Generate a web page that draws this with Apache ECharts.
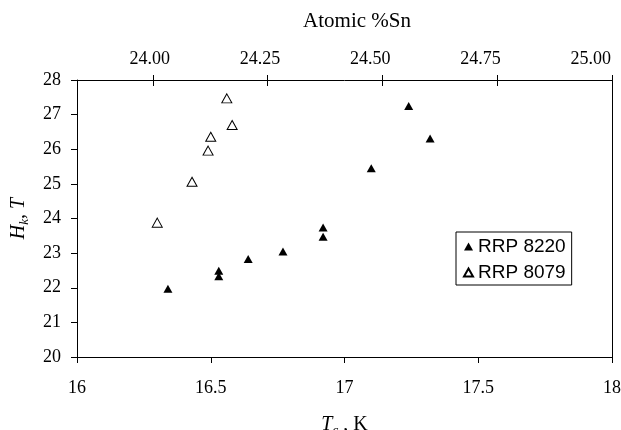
<!DOCTYPE html>
<html>
<head>
<meta charset="utf-8">
<script src="https://cdn.jsdelivr.net/npm/echarts@6/dist/echarts.min.js"></script>
<style>
html,body{margin:0;padding:0;background:#fff;}
#c{width:621px;height:430px;}
</style>
</head>
<body>
<div id="c"></div>
<script>
// Data
const seriesNames = ['RRP 8220', 'RRP 8079'];
const tc8220 = [16.34, 16.53, 16.53, 16.64, 16.77, 16.92, 16.92, 17.10, 17.24, 17.32];
const hk8220 = [21.97, 22.49, 22.33, 22.83, 23.05, 23.74, 23.47, 25.45, 27.25, 26.31];
const tc8079 = [16.30, 16.43, 16.49, 16.50, 16.58, 16.56];
const hk8079 = [23.88, 25.06, 25.96, 26.36, 26.70, 27.47];
const topTicks = [24.00, 24.25, 24.50, 24.75, 25.00];

const serif = 'Liberation Serif';
const chart = echarts.init(document.getElementById('c'), null, {renderer: 'canvas'});

const topMin = 23.835;

const option = {
  animation: false,
  backgroundColor: '#fff',
  grid: {left: 77, right: 9, top: 80, bottom: 73, containLabel: false, outerBoundsMode: 'none'},
  legend: {
    orient: 'vertical',
    left: 456, top: 232,
    borderColor: '#000', borderWidth: 1,
    padding: [5, 6, 3, 7],
    itemGap: 7,
    itemWidth: 9, itemHeight: 8,
    icon: 'triangle',
    textStyle: {fontFamily: 'Liberation Sans', fontSize: 19, color: '#000'},
    data: seriesNames
  },
  xAxis: [
    {
      type: 'value', position: 'bottom', min: 16, max: 18, interval: 0.5,
      axisLine: {show: true, lineStyle: {color: '#000', width: 1}},
      axisTick: {show: true, inside: false, length: 6, lineStyle: {color: '#000'}},
      axisLabel: {color: '#000', fontFamily: serif, fontSize: 18, margin: 22},
      splitLine: {show: false},
      name: '{i|T}{s|c}{n| , K}',
      nameLocation: 'middle', nameGap: 56,
      nameTextStyle: {
        rich: {
          i: {fontFamily: serif, fontStyle: 'italic', fontSize: 20, color: '#000', lineHeight: 24, verticalAlign: 'middle'},
          s: {fontFamily: serif, fontStyle: 'italic', fontSize: 13, color: '#000', lineHeight: 13, verticalAlign: 'bottom'},
          n: {fontFamily: serif, fontSize: 20, color: '#000', lineHeight: 24, verticalAlign: 'middle'}
        }
      }
    },
    {
      // top axis: line, labels and title
      type: 'value', position: 'top', min: topMin, max: 25.048,
      axisLine: {show: true, lineStyle: {color: '#000', width: 1}},
      axisTick: {show: false},
      axisLabel: {color: '#000', fontFamily: serif, fontSize: 18, margin: 12, customValues: topTicks,
        formatter: v => v.toFixed(2)},
      splitLine: {show: false},
      name: 'Atomic %Sn',
      nameLocation: 'middle', nameGap: 48,
      nameTextStyle: {fontFamily: serif, fontSize: 21, color: '#000', padding: [0, 0, 0, 25]}
    },
    {
      // top axis ticks, outer half
      type: 'value', position: 'top', min: topMin, max: 25.0,
      axisLine: {show: false},
      axisTick: {show: true, inside: false, length: 5, customValues: topTicks, lineStyle: {color: '#000'}},
      axisLabel: {show: false},
      splitLine: {show: false}
    },
    {
      // top axis ticks, inner half
      type: 'value', position: 'top', min: topMin, max: 25.0,
      axisLine: {show: false},
      axisTick: {show: true, inside: true, length: 6, customValues: topTicks, lineStyle: {color: '#000'}},
      axisLabel: {show: false},
      splitLine: {show: false}
    }
  ],
  yAxis: [
    {
      type: 'value', position: 'left', min: 20, max: 28, interval: 1,
      axisLine: {show: true, lineStyle: {color: '#000', width: 1}},
      axisTick: {show: true, inside: false, length: 6, lineStyle: {color: '#000'}},
      axisLabel: {color: '#000', fontFamily: serif, fontSize: 18, margin: 16},
      splitLine: {show: false},
      name: '{i|H}{s|k}{i|, T}',
      nameLocation: 'middle', nameGap: 46, nameRotate: 90,
      nameTextStyle: {
        rich: {
          i: {fontFamily: serif, fontStyle: 'italic', fontSize: 20, color: '#000', lineHeight: 24, verticalAlign: 'middle'},
          s: {fontFamily: serif, fontStyle: 'italic', fontSize: 13, color: '#000', lineHeight: 13, verticalAlign: 'bottom'}
        }
      }
    },
    {
      type: 'value', position: 'right', min: 20, max: 28,
      axisLine: {show: true, lineStyle: {color: '#000', width: 1}},
      axisTick: {show: false}, axisLabel: {show: false}, splitLine: {show: false}
    }
  ],
  series: [
    {
      name: seriesNames[0], type: 'scatter', xAxisIndex: 0, yAxisIndex: 0,
      symbol: 'triangle', symbolSize: [9, 8],
      itemStyle: {color: '#000', opacity: 1},
      data: tc8220.map((x, i) => [x, hk8220[i]])
    },
    {
      name: seriesNames[1], type: 'scatter', xAxisIndex: 0, yAxisIndex: 0,
      symbol: 'triangle', symbolSize: [10, 9],
      itemStyle: {color: '#fff', borderColor: '#000', borderWidth: 1, opacity: 1},
      data: tc8079.map((x, i) => [x, hk8079[i]])
    }
  ]
};
chart.setOption(option);
</script>
</body>
</html>
